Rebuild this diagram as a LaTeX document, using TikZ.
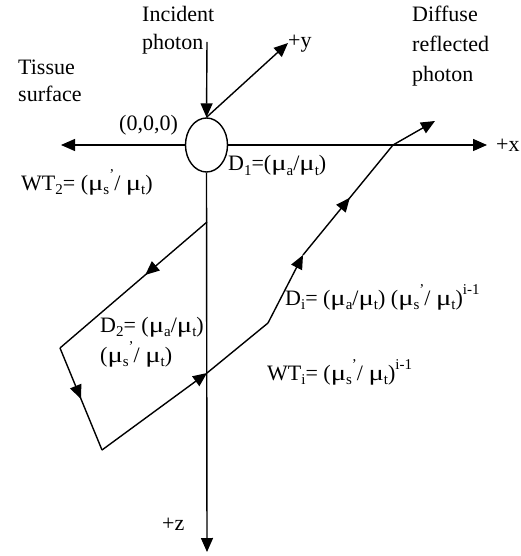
\documentclass[tikz,border=0pt]{standalone}
\usepackage{fontspec}
\usepackage{graphicx}
\setmainfont{Liberation Serif}
\usetikzlibrary{arrows.meta,decorations.markings,shapes.geometric}
\newcommand{\mymu}{\scalebox{1.3}[1]{μ}}
\newcommand{\mysb}[1]{\raisebox{-0.22em}{\fontsize{15}{15}\selectfont #1}}
\newcommand{\mysu}[1]{\raisebox{0.5em}{\fontsize{15}{15}\selectfont #1}}
\newcommand{\mysp}{\mymu\mysb{s}\mysu{’}}
\begin{document}
\begin{tikzpicture}[x=1pt,y=-1pt,
  lbl/.style={anchor=base west,inner sep=0pt,font=\fontsize{22}{28}\selectfont},
  ln/.style={line width=1.4pt},
  arrowend/.style={ln,-{Triangle[length=14pt,width=12pt]}},
  midarr/.style={ln,postaction={decorate},decoration={markings,mark=at position #1 with {\arrow{Triangle[length=14pt,width=12pt]}}}}]
\useasboundingbox (0,0) rectangle (520,556);
% origin ellipse
\node[draw,ln,ellipse,minimum width=42pt,minimum height=54pt,inner sep=0pt] (o) at (206.5,145) {};
% axis ends
\coordinate (xl) at (61,145);
\coordinate (xr) at (487,145);
\coordinate (zb) at (207,552);
\coordinate (ytip) at (288,43);
\coordinate (inc) at (207,42);
\draw[arrowend] (o.west) -- (xl);
\draw[arrowend] (o.east) -- (xr);
\draw[arrowend] (o.south) -- (zb);
\draw[arrowend] (inc) -- (o.north);
\draw[arrowend] (o.north) -- (ytip);
% scattering path points
\coordinate (a1) at (207,222);
\coordinate (a2) at (60,348);
\coordinate (a3) at (102,450);
\coordinate (a4) at (207,373);
\coordinate (b1) at (268,323);
\coordinate (b2) at (303,255);
\coordinate (b3) at (393,145);
\coordinate (b4) at (435,121);
\draw[midarr=0.42] (a1) -- (a2);
\draw[midarr=0.5] (a2) -- (a3);
\draw[arrowend] (a3) -- (a4);
\draw[ln] (a4) -- (b1);
\draw[arrowend] (b1) -- (b2);
\draw[midarr=0.52] (b2) -- (b3);
\draw[arrowend] (b3) -- (b4);
% labels
\node[lbl] (tinc) at (142,22) {Incident};
\node[lbl] (tinc2) at (142,50) {photon};
\node[lbl] (ttis) at (18,75) {Tissue};
\node[lbl] (ttis2) at (18,102) {surface};
\node[lbl] (tdif) at (412,22) {Diffuse};
\node[lbl] (tdif2) at (412,52) {reflected};
\node[lbl] (tdif3) at (412,82) {photon};
\node[lbl] (ty) at (288,48) {+y};
\node[lbl] (tx) at (496,152) {+x};
\node[lbl] (tz) at (162,530) {+z};
\node[lbl] (t0) at (119,131) {(0,0,0)};
\node[lbl] (td1) at (228,171) {D\mysb{1}=(\mymu\mysb{a}/\mymu\mysb{t})};
\node[lbl] (twt2) at (21,190) {WT\mysb{2}= (\mysp/ \mymu\mysb{t})};
\node[lbl] (td2) at (100,332) {D\mysb{2}= (\mymu\mysb{a}/\mymu\mysb{t})};
\node[lbl] (td2b) at (100,362) {(\mysp/ \mymu\mysb{t})};
\node[lbl] (tdi) at (285,305) {D\mysb{i}= (\mymu\mysb{a}/\mymu\mysb{t}) (\mysp/ \mymu\mysb{t})\mysu{i-1}};
\node[lbl] (twti) at (267,380) {WT\mysb{i}= (\mysp/ \mymu\mysb{t})\mysu{i-1}};
\end{tikzpicture}
\end{document}
